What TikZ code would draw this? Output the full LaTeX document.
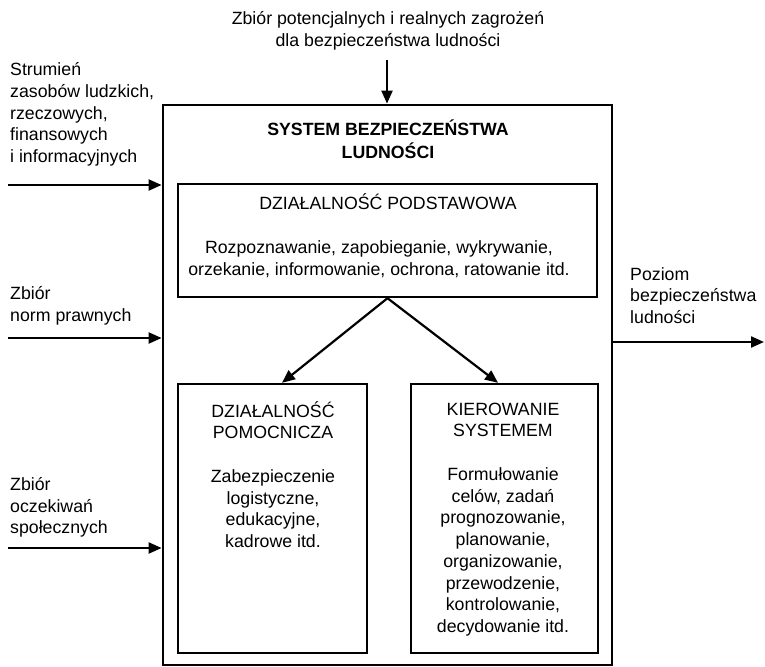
\documentclass[tikz,border=0pt]{standalone}
\usepackage{fontspec}
\setmainfont{Liberation Sans}
\usetikzlibrary{arrows.meta}
\begin{document}
\begin{tikzpicture}[x=1bp,y={(0bp,-1bp)},
  txt/.style={inner sep=0pt, font=\fontsize{17.8}{21.8}\selectfont},
  box/.style={draw, line width=2.4bp, inner sep=0pt},
  outerbox/.style={draw, line width=2.8bp, inner sep=0pt},
  arr/.style={line width=2.2bp, -{Triangle[length=13bp,width=11bp]}}
]
\useasboundingbox (0,0) rectangle (765,667);
% outer system box
\node[outerbox, minimum width=449bp, minimum height=560bp] (sys) at (387.5,385) {};
\node[txt, align=center, font=\fontsize{17.8}{23}\selectfont\bfseries] (title) at (388,139) {SYSTEM BEZPIECZEŃSTWA\\LUDNOŚCI};
% basic activity
\node[box, minimum width=419bp, minimum height=113bp] (pod) at (387.5,240.5) {};
\node[txt] (podt) at (388,202) {DZIAŁALNOŚĆ PODSTAWOWA};
\node[txt, align=center] (podd) at (379,259) {Rozpoznawanie, zapobieganie, wykrywanie,\\orzekanie, informowanie, ochrona, ratowanie itd.};
% auxiliary
\node[box, minimum width=189bp, minimum height=269bp] (pom) at (272.5,518.5) {};
\node[txt, align=center] (pomt) at (273,474.5) {DZIAŁALNOŚĆ\\POMOCNICZA\\[21.8bp]Zabezpieczenie\\logistyczne,\\edukacyjne,\\kadrowe itd.};
% management
\node[box, minimum width=187bp, minimum height=269bp] (kie) at (504.5,518.5) {};
\node[txt, align=center] (kiet) at (503,519.5) {KIEROWANIE\\SYSTEMEM\\[21.8bp]Formułowanie\\celów, zadań\\prognozowanie,\\planowanie,\\organizowanie,\\przewodzenie,\\kontrolowanie,\\decydowanie itd.};
% inner arrows
\draw[arr] (pod.south) -- (pom.north -| 282,0);
\draw[arr] (pod.south) -- (kie.north -| 498,0);
% top input
\node[txt, align=center] (thr) at (388,31) {Zbiór potencjalnych i realnych zagrożeń\\dla bezpieczeństwa ludności};
\coordinate (thrs) at (387,60);
\draw[arr] (thrs) -- (sys.north -| thrs);
% left inputs
\node[txt, align=left, anchor=west] (res) at (10,114.5) {Strumień\\zasobów ludzkich,\\rzeczowych,\\finansowych\\i informacyjnych};
\coordinate (in1) at (8,185);
\draw[arr] (in1) -- (sys.west |- in1);
\node[txt, align=left, anchor=west] (norm) at (10,306) {Zbiór\\norm prawnych};
\coordinate (in2) at (8,338);
\draw[arr] (in2) -- (sys.west |- in2);
\node[txt, align=left, anchor=west] (ocz) at (10,507.5) {Zbiór\\oczekiwań\\społecznych};
\coordinate (in3) at (8,548);
\draw[arr] (in3) -- (sys.west |- in3);
% output
\node[txt, align=left, anchor=west] (out) at (630,295.5) {Poziom\\bezpieczeństwa\\ludności};
\coordinate (outc) at (764,342);
\draw[arr] (sys.east |- outc) -- (outc);
\end{tikzpicture}
\end{document}
